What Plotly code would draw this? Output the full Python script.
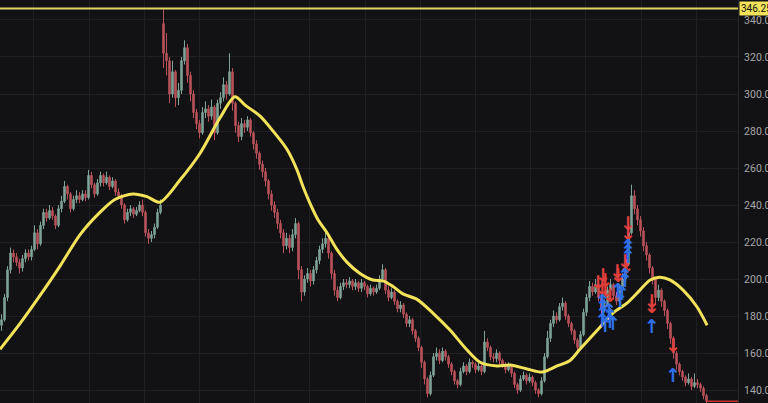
import plotly.graph_objects as go

# ---- price data (candle index) ----
closes = [178,190,205,214,212,209,206,211,214,212,
          216,225,219,229,236,233,237,234,229,238,
          242,250,246,238,243,245,243,246,244,256,
          251,246,252,256,252,255,250,253,247,245,
          240,232,236,238,235,237,240,236,225,222,
          224,228,236,240,322,318,300,312,298,302,
          318,325,310,300,290,284,279,290,292,288,
          293,279,295,298,305,300,312,295,283,277,
          284,282,286,279,273,268,262,258,253,246,
          240,236,230,225,218,222,217,224,230,205,
          193,200,203,199,205,210,216,219,222,214,
          203,194,190,196,198,197,199,196,198,195,
          198,196,192,195,193,195,200,205,194,190,
          193,188,184,186,181,176,178,172,168,163,
          155,146,138,148,158,160,156,161,158,154,
          150,145,143,150,153,150,155,154,151,153,
          150,166,163,158,157,160,156,154,151,153,
          149,143,140,146,148,145,147,144,140,138,
          145,158,168,176,180,178,185,187,180,176,
          172,167,163,170,182,190,196,193,197,190,
          184,186,194,197,191,188,194,200,208,225,
          245,238,232,226,218,213,206,200,190,194,
          188,183,176,168,160,154,150,147,144,146,
          142,144,143,141,137,134]

opens = [175,178,190,205,214,212,209,206,211,214,
         212,216,225,219,229,236,233,237,234,229,
         238,242,250,246,238,243,245,243,246,244,
         256,251,246,252,256,252,255,250,253,247,
         245,240,232,236,238,235,237,240,236,225,
         222,224,228,236,338,322,318,300,312,298,
         302,318,325,310,300,290,284,279,290,292,
         288,293,279,295,298,305,300,312,295,283,
         277,284,282,286,279,273,268,262,258,253,
         246,240,236,230,225,218,222,217,224,230,
         205,193,200,203,199,205,210,216,219,222,
         214,203,194,190,196,198,197,199,196,198,
         195,198,196,192,195,193,195,200,205,194,
         190,193,188,184,186,181,176,178,172,168,
         163,155,146,138,148,158,160,156,161,158,
         154,150,145,143,150,153,150,155,154,151,
         153,150,166,163,158,157,160,156,154,151,
         153,149,143,140,146,148,145,147,144,140,
         138,145,158,168,176,180,178,185,187,180,
         176,172,167,163,170,182,190,196,193,197,
         190,184,186,194,197,191,188,194,200,208,
         225,245,238,232,226,218,213,206,200,190,
         194,188,183,176,168,160,154,150,147,144,
         146,142,144,143,141,137]

highs = [181,192,207,217,216,214,211,213,216,216,
         218,229,227,231,238,238,240,239,235,240,
         245,253,251,247,245,248,247,248,248,259,
         258,252,254,258,257,258,256,255,254,249,
         246,241,238,240,239,239,242,243,237,227,
         226,230,238,243,346.25,333,320,318,313,306,
         320,329,327,312,302,292,286,293,296,294,
         297,294,297,301,309,307,322,314,296,285,
         287,286,288,287,280,275,269,264,260,254,
         248,242,238,232,227,225,224,227,233,231,
         207,202,206,205,207,212,218,222,225,223,
         215,205,196,198,200,200,201,200,200,199,
         200,199,197,197,196,197,202,208,206,196,
         195,194,189,188,187,182,180,179,173,169,
         164,156,147,150,160,163,162,163,162,159,
         155,151,146,152,155,154,157,156,155,155,
         154,172,168,164,160,162,161,157,155,155,
         154,150,144,148,150,149,149,148,145,141,
         147,160,172,178,183,182,187,190,188,181,
         177,173,168,172,184,192,199,198,200,198,
         191,189,196,200,198,193,196,203,212,230,
         251,248,240,234,228,220,214,207,201,197,
         195,189,184,177,169,161,155,151,148,149,
         147,149,146,144,142,138]

lows = [172,177,188,203,209,207,203,204,209,210,
        210,215,216,218,227,231,232,232,227,228,
        236,241,243,236,237,241,241,242,242,243,
        249,244,245,250,250,251,248,249,245,243,
        238,230,231,234,233,234,236,234,223,219,
        220,222,227,235,314,310,295,298,293,294,
        300,316,306,296,287,281,276,278,287,285,
        286,275,278,292,296,297,299,291,279,274,
        275,279,280,277,270,265,259,255,250,243,
        237,233,227,222,214,216,214,215,222,200,
        188,191,198,196,197,203,208,214,217,211,
        200,191,188,189,194,195,195,194,194,193,
        193,194,190,191,191,192,194,198,192,188,
        189,186,182,182,179,174,174,170,166,161,
        152,143,136,137,147,156,154,155,156,152,
        148,143,141,142,149,148,149,152,149,150,
        148,149,161,156,155,155,154,152,149,150,
        147,141,138,139,145,143,144,142,138,136,
        137,144,157,166,174,176,177,183,178,174,
        170,165,161,162,169,180,188,191,192,188,
        181,182,185,192,189,186,187,193,199,207,
        224,235,229,223,215,210,203,197,186,188,
        185,180,173,165,157,151,148,145,142,143,
        140,141,141,139,135,132]

idx = list(range(len(closes)))

# ---- moving average ----
ma_x = [-0.5, 6.2, 12.8, 19.5, 26.2, 32.8, 37.8, 43.8, 48.5, 52.8,
        59.5, 66.2, 72.8, 77.8, 81.2, 86.2, 90.5, 95.2, 98.5, 100.5,
        102.8, 105.5, 108.5, 111.8, 115.2, 119.5, 123.8, 127.2, 130.5, 133.8,
        138.5, 143.8, 149.5, 155.2, 159.5, 165.2, 169.5, 175.2, 180.2, 185.2,
        189.5, 192.8, 199.5, 203.8, 208.5, 212.8, 216.2, 219.5, 222.8, 227.2,
        231.8, 235.2]
ma_y = [162, 176, 191, 207, 224, 236, 243, 246, 244.5, 241.5,
        253.5, 268, 287, 298.5, 294, 288, 280, 270, 259, 250,
        241, 232, 225, 216, 209, 203, 199.5, 199, 196, 192,
        189, 181.6, 172.4, 161.6, 155, 153, 153.5, 151.4, 149.7, 153,
        156, 162, 174, 181.6, 187, 194, 199.5, 201, 199.5, 194,
        185, 175]

# ---- signals (sell = red down arrows, buy = blue up arrows) ----
sell_x = [208.8, 208.8, 207.8, 208.2, 205.2, 205.5, 200.5, 201.2, 198.8, 200.2,
          201.2, 202.8, 216.7, 216.7, 223.8]
sell_y = [229.2, 223.8, 208.6, 206, 203, 201, 201, 198.4, 197, 194,
          192.4, 190, 187, 184.3, 163]
buy_x = [208.8, 208.8, 208.8, 207.8, 207.8, 205.5, 206.8, 206.2, 200.2, 200.5,
         200.5, 200.2, 202.5, 202.8, 202.8, 203.8, 201.2, 216.7, 223.8]
buy_y = [216.8, 214, 211.4, 201, 198.4, 193, 191, 187.6, 187, 184.3,
         180.5, 176.8, 182.2, 179.5, 176.2, 175, 174, 173.5, 147]

ath_level = 346.25
y_ticks = [140, 160, 180, 200, 220, 240, 260, 280, 300, 320, 340]

BG = "#121214"
GRID = "#1f1f22"

fig = go.Figure()
fig.add_trace(go.Candlestick(
    x=idx, open=opens, high=highs, low=lows, close=closes,
    increasing=dict(line=dict(color="#7fa396", width=1), fillcolor="#7fa396"),
    decreasing=dict(line=dict(color="#b9525a", width=1), fillcolor="#b9525a"),
    whiskerwidth=0, showlegend=False, hoverinfo="skip"))

fig.add_trace(go.Scatter(
    x=ma_x, y=ma_y, mode="lines",
    line=dict(color="#f2e35a", width=3, shape="spline", smoothing=0.8),
    showlegend=False, hoverinfo="skip"))

fig.add_trace(go.Scatter(
    x=sell_x, y=sell_y, mode="text", text=["↓"] * len(sell_x),
    textfont=dict(color="#e0403c", size=19, family="DejaVu Sans", weight="bold"),
    showlegend=False, hoverinfo="skip"))
fig.add_trace(go.Scatter(
    x=buy_x, y=buy_y, mode="text", text=["↑"] * len(buy_x),
    textfont=dict(color="#2f6fe8", size=19, family="DejaVu Sans", weight="bold"),
    showlegend=False, hoverinfo="skip"))

fig.add_shape(type="line", xref="paper", x0=0, x1=1, yref="y",
              y0=ath_level, y1=ath_level, line=dict(color="#e2d766", width=2))
fig.add_shape(type="line", xref="x", x0=len(closes) - 1, x1=len(closes) + 20, yref="y",
              y0=closes[-1], y1=closes[-1], line=dict(color="#c83232", width=1.5))

fig.add_annotation(xref="paper", x=1, xanchor="left", yref="y", y=ath_level,
                   yanchor="middle", text=f"{ath_level:.2f}", showarrow=False,
                   font=dict(color="#111111", size=10, family="Roboto"),
                   bgcolor="#f2e35a", borderpad=1, xshift=1)

fig.update_layout(
    width=768, height=403,
    margin=dict(l=0, r=30, t=0, b=0, autoexpand=False),
    paper_bgcolor=BG, plot_bgcolor=BG,
    xaxis=dict(range=[-0.5, 245.5], rangeslider=dict(visible=False),
               showticklabels=False, showgrid=True, gridcolor=GRID, gridwidth=1,
               tick0=10.8, dtick=18.4, zeroline=False, showline=False,
               automargin=False),
    yaxis=dict(side="right", range=[133, 350.8], tickvals=y_ticks,
               ticktext=[f"{v:.2f}" for v in y_ticks],
               tickfont=dict(color="#a8a8a8", size=10.5, family="Roboto"),
               showgrid=True, gridcolor=GRID, gridwidth=1, zeroline=False,
               showline=True, linecolor="#262629", linewidth=1, ticks="",
               ticklabelstandoff=3, automargin=False),
)

fig.write_html("out.html", config={"displayModeBar": False},
               post_script="document.body.style.margin='0';document.body.style.background='#121214';")
